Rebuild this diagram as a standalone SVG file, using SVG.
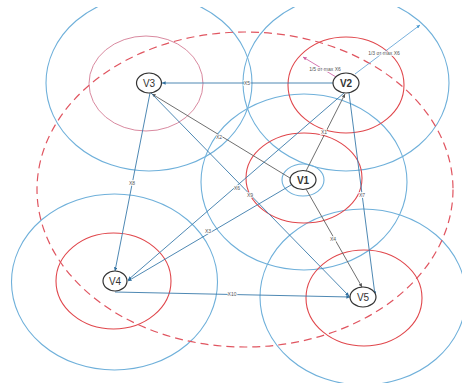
<svg xmlns="http://www.w3.org/2000/svg" width="462" height="383" viewBox="0 0 462 383">
<style>
.bl{fill:none;stroke:#6fb0da;stroke-width:1.1}
.rd{fill:none;stroke:#e0474c;stroke-width:1.1}
.pk{fill:none;stroke:#d98aa0;stroke-width:1}
.dash{fill:none;stroke:#e05560;stroke-width:1.2;stroke-dasharray:8 5}
.eb{fill:none;stroke:#3a7aaa;stroke-width:0.9;marker-end:url(#ab)}
.eg{fill:none;stroke:#5f5f5f;stroke-width:0.9;marker-end:url(#ag)}
.node ellipse{fill:#fff;stroke:#333;stroke-width:1.2}
.node text{font-family:"Liberation Sans",Arial,sans-serif;font-size:10px;fill:#333;text-anchor:middle;dominant-baseline:central}
.lb{font-family:"Liberation Sans",Arial,sans-serif;font-size:5px;fill:#555;text-anchor:middle;dominant-baseline:central;stroke:#fff;stroke-width:1.5;paint-order:stroke}
</style>
<defs>
<clipPath id="cl"><rect x="0" y="7" width="462" height="376"/></clipPath>
<marker id="ab" viewBox="0 0 6 6" refX="6" refY="3" markerWidth="4" markerHeight="4" orient="auto"><path d="M0,0L6,3L0,6z" fill="#2f6f9f"/></marker>
<marker id="ag" viewBox="0 0 6 6" refX="6" refY="3" markerWidth="4" markerHeight="4" orient="auto"><path d="M0,0L6,3L0,6z" fill="#555"/></marker>
<marker id="ap" viewBox="0 0 6 6" refX="6" refY="3" markerWidth="4" markerHeight="4" orient="auto"><path d="M0,0L6,3L0,6z" fill="#d060a0"/></marker>
<marker id="al" viewBox="0 0 6 6" refX="6" refY="3" markerWidth="4" markerHeight="4" orient="auto"><path d="M0,0L6,3L0,6z" fill="#4a9ad0"/></marker>
</defs>
<rect width="462" height="383" fill="#fff"/>
<g id="zones" clip-path="url(#cl)">
<ellipse class="bl" cx="149" cy="83" rx="103" ry="88"/>
<ellipse class="bl" cx="346" cy="83" rx="103" ry="88"/>
<ellipse class="bl" cx="304" cy="182" rx="103" ry="88"/>
<ellipse class="bl" cx="114.5" cy="282" rx="103" ry="88"/>
<ellipse class="bl" cx="363" cy="297" rx="103" ry="88"/>
<ellipse class="bl" cx="303" cy="180" rx="21" ry="16"/>
<ellipse class="pk" cx="146" cy="83.5" rx="57" ry="47.5"/>
<ellipse class="rd" cx="346" cy="85" rx="58" ry="48"/>
<ellipse class="rd" cx="304" cy="178" rx="58" ry="45"/>
<ellipse class="rd" cx="113.5" cy="281" rx="57.5" ry="48"/>
<ellipse class="rd" cx="364" cy="298" rx="58" ry="48"/>
<ellipse class="dash" cx="245" cy="189.5" rx="208" ry="157.5"/>
</g>
<g id="connectors">
<line class="eb" x1="333" y1="83" x2="162" y2="83"/>
<line class="eg" x1="306" y1="171" x2="345" y2="94"/>
<line class="eg" x1="290" y1="178" x2="152" y2="94"/>
<line class="eb" x1="150" y1="93" x2="115" y2="271"/>
<line class="eb" x1="344" y1="93" x2="128" y2="280"/>
<line class="eb" x1="291" y1="185" x2="128" y2="281"/>
<line class="eb" x1="151" y1="93" x2="349" y2="296"/>
<line class="eg" x1="306" y1="189" x2="362" y2="287"/>
<line class="eb" x1="349" y1="93" x2="375" y2="295"/>
<line class="eb" x1="115" y1="292" x2="350" y2="297"/>
<line x1="355" y1="74" x2="420" y2="25" stroke="#6aa8d8" stroke-width="0.9" marker-end="url(#al)"/>
<line x1="336" y1="77" x2="303" y2="57" stroke="#d068a8" stroke-width="0.9" marker-end="url(#ap)"/>
<text class="lb" x="247" y="83">X5</text>
<text class="lb" x="324" y="132">X1</text>
<text class="lb" x="219" y="137">X2</text>
<text class="lb" x="132" y="183">X8</text>
<text class="lb" x="237" y="188">X6</text>
<text class="lb" x="250" y="195">X9</text>
<text class="lb" x="208" y="231">X3</text>
<text class="lb" x="333" y="239">X4</text>
<text class="lb" x="362" y="195">X7</text>
<text class="lb" x="232" y="294">X10</text>
<text class="lb" x="384" y="53">1/3 от max X6</text>
<text class="lb" x="325" y="69">1/5 от max X6</text>
</g>
<g id="V3" class="node"><ellipse cx="149" cy="83" rx="12.5" ry="10"/><text x="149" y="83">V3</text></g>
<g id="V2" class="node"><ellipse cx="346" cy="83" rx="13" ry="10"/><text x="346" y="83" font-weight="bold">V2</text></g>
<g id="V1" class="node"><ellipse cx="303" cy="180" rx="13" ry="9.5"/><text x="303" y="180" font-weight="bold">V1</text></g>
<g id="V4" class="node"><ellipse cx="115" cy="281" rx="12" ry="10"/><text x="115" y="281">V4</text></g>
<g id="V5" class="node"><ellipse cx="363" cy="297" rx="13" ry="10"/><text x="363" y="297">V5</text></g>
</svg>
